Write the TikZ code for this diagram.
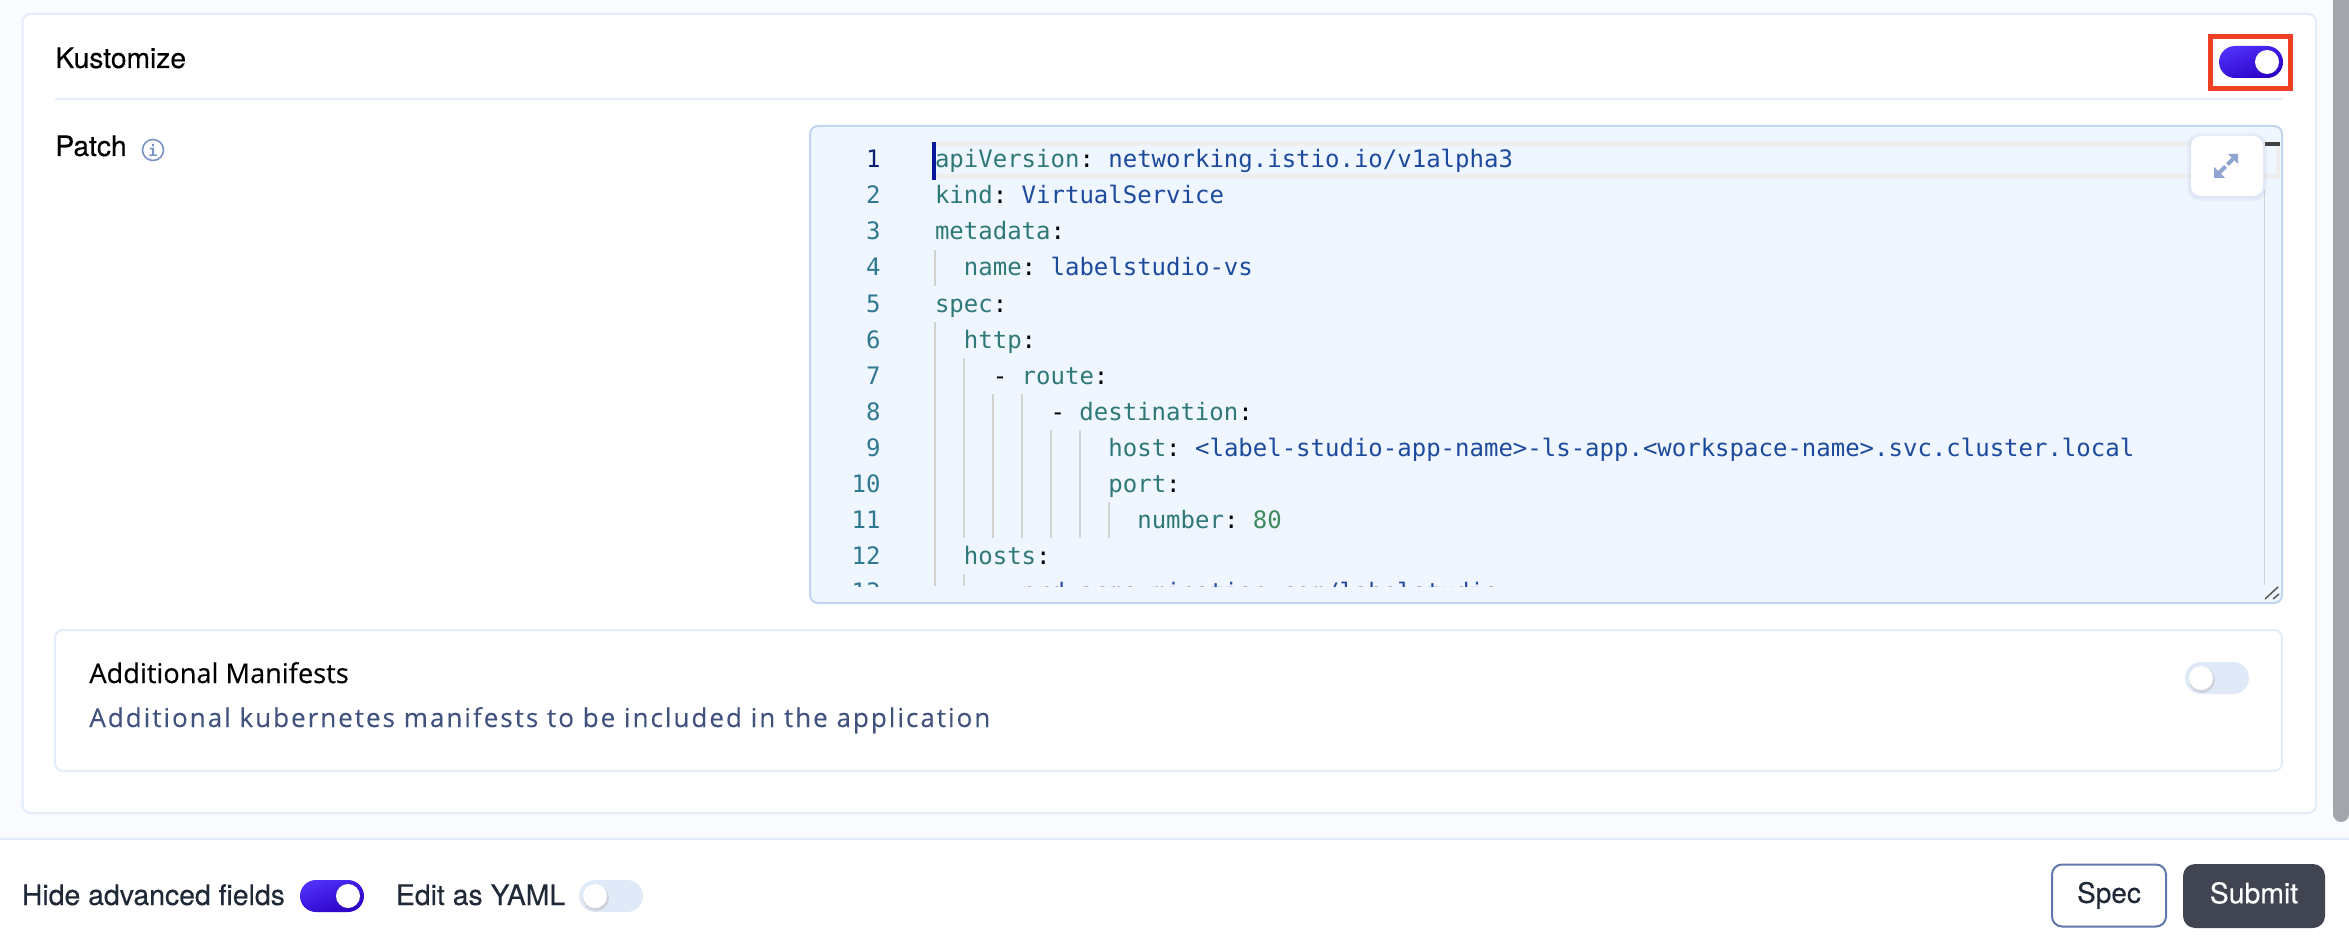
\documentclass[tikz,border=0pt]{standalone}
\usepackage{fontspec}
\setmainfont[FakeBold=0.25]{TeX Gyre Heros}
\newfontfamily\titlefont[FakeBold=0.35]{Open Sans}
\newfontfamily\subfont[LetterSpace=7.7,FakeBold=0.15]{Open Sans}
\newfontfamily\codefont{DejaVu Sans Mono}
\usetikzlibrary{calc}
\definecolor{pagebg}{HTML}{FAFBFF}
\definecolor{cardline}{HTML}{E4ECFA}
\definecolor{edfill}{HTML}{F0F6FF}
\definecolor{edline}{HTML}{C3D4F0}
\definecolor{barc}{HTML}{A4A4AD}
\definecolor{redbox}{HTML}{EE4023}
\definecolor{togA}{HTML}{5030FA}
\definecolor{togB}{HTML}{2A00C4}
\definecolor{togoff}{HTML}{DFE9F8}
\definecolor{keyc}{HTML}{2E7878}
\definecolor{valc}{HTML}{1C4A9C}
\definecolor{numc}{HTML}{3F8A5F}
\definecolor{gutc}{HTML}{2F7890}
\definecolor{gutact}{HTML}{0B216F}
\definecolor{guide}{HTML}{D3D3D3}
\definecolor{hilite}{HTML}{EEEEEE}
\definecolor{iconc}{HTML}{8FA5D0}
\definecolor{infoc}{HTML}{7B93C4}
\definecolor{darktxt}{HTML}{1F2937}
\definecolor{subtxt}{HTML}{41527F}
\definecolor{specline}{HTML}{5E78AB}
\definecolor{subbg}{HTML}{414552}
\tikzset{
  x=0.5pt,y=-0.5pt,
  card/.style={draw=cardline,line width=1pt,fill=white,rounded corners=4pt},
  label/.style={inner sep=0pt,anchor=base west,font=\fontsize{14.1}{16}\selectfont,text=black},
  barlabel/.style={inner sep=0pt,anchor=base west,font=\fontsize{14.2}{16}\selectfont,text=darktxt},
  code/.style={inner sep=0pt,anchor=base west,font=\codefont\fontsize{12}{14}\selectfont,text=keyc},
  gut/.style={inner sep=0pt,anchor=base east,font=\codefont\fontsize{12}{14}\selectfont,text=gutc},
  guideline/.style={draw=guide,line width=0.75pt},
  toggleon/.style={rounded corners=8pt,left color=togA,right color=togB,shading angle=20},
  toggleoff/.style={rounded corners=8pt,fill=togoff},
}
\newcommand{\kv}[2]{#1\textcolor{black}{:}#2}
\frenchspacing
\begin{document}
\begin{tikzpicture}
\useasboundingbox (0,0) rectangle (2349,952);
\fill[white] (0,0) rectangle (2349,952);
\fill[pagebg] (0,0) rectangle (2349,838);
\draw[cardline,line width=1pt] (0,839) -- (2349,839);
% scrollbar
\fill[barc,rounded corners=4pt] (2333,-10) rectangle (2349,822);
% outer card
\draw[card] (22.5,14) rectangle (2316,813);
\draw[cardline,line width=1pt] (55,99) -- (2283,99);
\node[label] (kust) at (55,68) {Kustomize};
\node[label] (patch) at (55,156) {Patch};
\node[circle,draw=infoc,line width=0.8pt,minimum size=10.5pt,inner sep=0pt,text=infoc,font=\codefont\fontsize{7.5}{8}\bfseries\selectfont] (info) at (153,150) {i};
% top toggle
\path[toggleon] (2219,46) rectangle (2283,78);
\fill[white] (2267,62) circle (12);
\draw[redbox,line width=2.5pt] (2210.5,36.5) rectangle (2290.5,88.5);
% editor
\draw[draw=edline,fill=edfill,line width=1pt,rounded corners=4pt] (810,126) rectangle (2282,603);
\begin{scope}
\clip (812,128) rectangle (2280,586);
\draw[hilite,line width=2pt] (934,144) -- (2278,144) -- (2278,176) -- (934,176);
\draw[guideline] (935,250) -- (935,286);
\draw[guideline] (935,322) -- (935,586);
\draw[guideline] (964,358) -- (964,538);
\draw[guideline] (964,574) -- (964,586);
\draw[guideline] (993,394) -- (993,538);
\draw[guideline] (1022,394) -- (1022,538);
\draw[guideline] (1051,430) -- (1051,538);
\draw[guideline] (1080,430) -- (1080,538);
\draw[guideline] (1109,502) -- (1109,538);
\node[gut,text=gutact] (n1) at (881,168) {1};
\node[gut] (n2) at (881,204) {2};
\node[gut] (n3) at (881,240) {3};
\node[gut] (n4) at (881,276) {4};
\node[gut] (n5) at (881,312) {5};
\node[gut] (n6) at (881,348) {6};
\node[gut] (n7) at (881,384) {7};
\node[gut] (n8) at (881,420) {8};
\node[gut] (n9) at (881,456) {9};
\node[gut] (n10) at (881,492) {10};
\node[gut] (n11) at (881,528) {11};
\node[gut] (n12) at (881,564) {12};
\node[gut] (n13) at (881,600) {13};
\node[code] (c1) at (934.6,168) {\kv{apiVersion}{ \textcolor{valc}{networking.istio.io/v1alpha3}}};
\node[code] (c2) at (934.6,204) {\kv{kind}{ \textcolor{valc}{VirtualService}}};
\node[code] (c3) at (934.6,240) {\kv{metadata}{}};
\node[code] (c4) at (963.5,276) {\kv{name}{ \textcolor{valc}{labelstudio-vs}}};
\node[code] (c5) at (934.6,312) {\kv{spec}{}};
\node[code] (c6) at (963.5,348) {\kv{http}{}};
\node[code] (c7) at (992.4,384) {\textcolor{black}{-} \kv{route}{}};
\node[code] (c8) at (1050.1,420) {\textcolor{black}{-} \kv{destination}{}};
\node[code] (c9) at (1108,456) {\kv{host}{ \textcolor{valc}{<label-studio-app-name>-ls-app.<workspace-name>.svc.cluster.local}}};
\node[code] (c10) at (1108,492) {\kv{port}{}};
\node[code] (c11) at (1136.9,528) {\kv{number}{ \textcolor{numc}{80}}};
\node[code] (c12) at (963.5,564) {\kv{hosts}{}};
\node[code,text=valc] (c13) at (992.4,600) {\textcolor{black}{-} prd.acme-mination.com/labelstudio};
\end{scope}
% cursor
\fill[gutact!70!blue] (932,142) rectangle (936,180);
% overview ruler
\draw[guide,line width=0.5pt] (2264,190) -- (2264,585);
\fill[black!75] (2265,142) rectangle (2280,146);
% expand button
\fill[iconc,opacity=0.08,rounded corners=6pt] (2187,133) rectangle (2267,201);
\fill[iconc,opacity=0.10,rounded corners=5pt] (2189,135) rectangle (2265,199);
\node[draw=none,fill=white,rounded corners=5pt,minimum width=36pt,minimum height=30pt,inner sep=0pt] (expand) at (2227,166) {};
\draw[iconc,line width=2pt] (2219,173) -- (2225.5,166.5);
\draw[iconc,line width=2pt] (2227.5,164.5) -- (2233,159);
\fill[iconc] (2214,167) -- (2214,178) -- (2225,178) -- cycle;
\fill[iconc] (2228,154) -- (2238,154) -- (2238,164) -- cycle;
% grip
\draw[black!65,line width=0.75pt] (2265,599) -- (2278,587);
\draw[black!65,line width=0.75pt] (2273,599) -- (2279,594);
% additional manifests
\draw[card] (55,630) rectangle (2282,771);
\node[label,font=\titlefont\fontsize{13.6}{15}\selectfont] (addm) at (89,683) {Additional Manifests};
\node[label,text=subtxt,font=\subfont\fontsize{13}{15}\selectfont] (adds) at (89,727) {Additional kubernetes manifests to be included in the application};
\path[toggleoff] (2185,662) rectangle (2249,694);
\fill[black!25,opacity=0.5] (2202,680) circle (13);
\fill[white] (2201,678) circle (12);
% bottom bar
\node[barlabel] (hide) at (21.5,905) {Hide advanced fields};
\path[toggleon] (300,880) rectangle (364,912);
\fill[white] (348,896) circle (12);
\node[barlabel] (edit) at (395.5,905) {Edit as YAML};
\path[toggleoff] (579,880) rectangle (643,912);
\fill[black!25,opacity=0.5] (596,898) circle (13);
\fill[white] (595,896) circle (12);
\node[draw=specline,fill=white,line width=1pt,rounded corners=5pt,minimum width=57pt,minimum height=31pt,inner sep=0pt,text height=10.3pt,text depth=3pt,text=darktxt,font=\fontsize{14}{16}\selectfont] (spec) at (2109,895.5) {Spec};
\node[fill=subbg,rounded corners=6pt,minimum width=71pt,minimum height=32pt,inner sep=0pt,text height=10.3pt,text depth=3pt,text=white,font=\fontsize{14.2}{16}\selectfont] (submit) at (2254,896) {Submit};
\end{tikzpicture}
\end{document}
